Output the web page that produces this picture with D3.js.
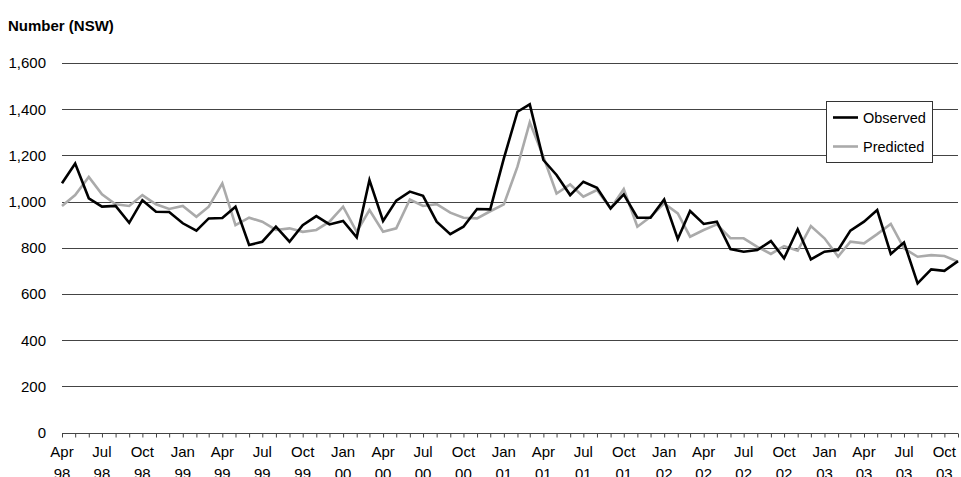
<!DOCTYPE html>
<html>
<head>
<meta charset="utf-8">
<script src="https://cdnjs.cloudflare.com/ajax/libs/d3/7.8.5/d3.min.js"></script>
<style>
  body { margin: 0; background: #fff; }
  text { font-family: "Liberation Sans", Arial, sans-serif; fill: #000; }
</style>
</head>
<body>
<svg id="chart"></svg>
<script>
const width = 961;
const height = 477;

// monthly series, Apr 98 .. Nov 03
const startMonth = new Date(1998, 3, 1);
const endMonth = new Date(2003, 10, 1);
const months = d3.timeMonth.range(startMonth, d3.timeMonth.offset(endMonth, 1));

const observed = [1079, 1165, 1014, 978, 981, 908, 1006, 956, 955, 906, 874, 927, 929, 978, 812, 826, 891,
  826, 898, 937, 901, 916, 845, 1093, 916, 1004, 1043, 1025, 913, 859, 891, 968, 966,
  1187, 1389, 1421, 1180, 1115, 1028, 1086, 1060, 970, 1031, 930, 930, 1009, 838, 959, 903, 913,
  794, 783, 790, 829, 754, 880, 750, 783, 790, 874, 913, 963, 773, 823, 646, 706, 700, 742];

const predicted = [981, 1028, 1107, 1031, 988, 981, 1028, 988, 968, 981, 934, 978, 1079, 898, 930, 913, 877,
  884, 869, 877, 913, 978, 869, 963, 869, 884, 1009, 981, 989, 952, 930, 927, 958,
  988, 1151, 1343, 1194, 1035, 1074, 1021, 1050, 970, 1054, 891, 934, 992, 949, 848, 877, 901,
  841, 841, 804, 773, 807, 787, 894, 841, 762, 826, 819, 859, 903, 797, 761, 768, 764, 740];

const yTicks = [0, 200, 400, 600, 800, 1000, 1200, 1400, 1600];
// label every 3rd month
const labelMonths = months.filter((d, i) => i % 3 === 0);

const seriesNames = ["Observed", "Predicted"];
const seriesColors = ["#000000", "#aaaaaa"];

const margin = {left: 62, right: 3, top: 63, bottom: 44.5};

const svg = d3.select("#chart")
    .attr("width", width)
    .attr("height", height);

const x = d3.scaleTime()
    .domain([startMonth, endMonth])
    .range([margin.left, width - margin.right]);

const y = d3.scaleLinear()
    .domain([0, 1600])
    .range([height - margin.bottom, margin.top]);

// gridlines
svg.append("g")
  .selectAll("line")
  .data(yTicks.filter(d => d > 0))
  .join("line")
    .attr("x1", margin.left)
    .attr("x2", width - margin.right)
    .attr("y1", d => Math.round(y(d)) + 0.5)
    .attr("y2", d => Math.round(y(d)) + 0.5)
    .attr("stroke", "#444")
    .attr("stroke-width", 1);

// y labels
svg.append("g")
  .selectAll("text")
  .data(yTicks)
  .join("text")
    .attr("x", 46)
    .attr("y", d => y(d))
    .attr("dy", "0.36em")
    .attr("text-anchor", "end")
    .style("font-size", "15px")
    .text(d => d3.format(",")(d));

// x axis
const xAxis = svg.append("g")
    .attr("transform", "translate(0," + (Math.round(y(0)) + 0.5) + ")")
    .call(d3.axisBottom(x).tickValues(months).tickSize(4).tickFormat(""));
xAxis.select(".domain").attr("stroke", "#444").attr("d", "M" + margin.left + ",0H" + (width - margin.right));
xAxis.selectAll(".tick line").attr("stroke", "#444");

const fmtMonth = d3.timeFormat("%b");
const fmtYear = d3.timeFormat("%y");

const xl = svg.append("g")
  .selectAll("text")
  .data(labelMonths)
  .join("text")
    .attr("text-anchor", "middle")
    .style("font-size", "15px");
xl.append("tspan")
    .attr("x", d => x(d))
    .attr("y", 457)
    .text(d => fmtMonth(d));
xl.append("tspan")
    .attr("x", d => x(d))
    .attr("y", 479)
    .text(d => fmtYear(d));

// lines
const line = d3.line()
    .x((d, i) => x(months[i]))
    .y(d => y(d));

svg.append("path")
    .datum(predicted)
    .attr("fill", "none")
    .attr("stroke", seriesColors[1])
    .attr("stroke-width", 2.6)
    .attr("stroke-linejoin", "miter")
    .attr("d", line);

svg.append("path")
    .datum(observed)
    .attr("fill", "none")
    .attr("stroke", seriesColors[0])
    .attr("stroke-width", 2.6)
    .attr("stroke-linejoin", "miter")
    .attr("d", line);

// title
svg.append("text")
    .attr("x", 8)
    .attr("y", 31)
    .style("font-size", "15px")
    .style("font-weight", "bold")
    .text("Number (NSW)");

// legend
const legend = svg.append("g");
legend.append("rect")
    .attr("x", 826.5)
    .attr("y", 101.5)
    .attr("width", 106)
    .attr("height", 61)
    .attr("fill", "#fff")
    .attr("stroke", "#333")
    .attr("stroke-width", 1);

seriesNames.forEach((name, i) => {
  const ly = 117.5 + i * 29;
  legend.append("line")
      .attr("x1", 833).attr("x2", 858)
      .attr("y1", ly).attr("y2", ly)
      .attr("stroke", seriesColors[i])
      .attr("stroke-width", 2.6);
  legend.append("text")
      .attr("x", 863)
      .attr("y", ly)
      .attr("dy", "0.36em")
      .style("font-size", "14.5px")
      .text(name);
});
</script>
</body>
</html>
